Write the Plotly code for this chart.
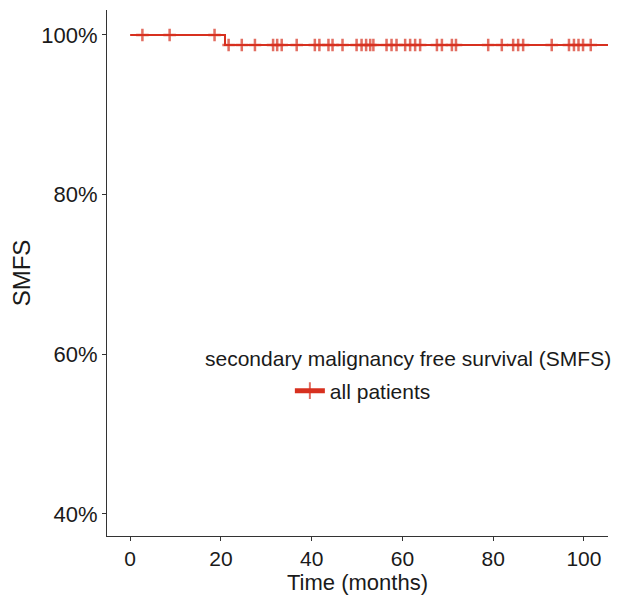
import plotly.graph_objects as go

# --- data ---
event_times = [20.9]                 # time of the single event (drop)
surv_after_event = [0.9875]          # survival after that event
censor_times = [2.7, 8.7, 18.6,
                21.7, 24.6, 27.5, 31.5, 32.4, 33.4, 36.7, 40.7, 41.7, 43.7, 44.6,
                46.8, 49.9, 51.0, 52.0, 52.9, 53.6, 56.5, 57.6, 58.7,
                60.6, 61.7, 62.8, 63.9, 67.6, 68.7, 70.9, 71.8,
                78.9, 81.9, 84.4, 85.5, 86.6, 92.9, 96.7, 97.8, 98.8, 99.8, 101.5]
end_time = 105.3
x_ticks = [0, 20, 40, 60, 80, 100]
y_ticks = [0.4, 0.6, 0.8, 1.0]
y_tick_labels = ["40%", "60%", "80%", "100%"]
legend_title = "secondary malignancy free survival (SMFS)"
series_name = "all patients"

RED = "#D7301F"


def surv_at(t):
    s = 1.0
    for et, sv in zip(event_times, surv_after_event):
        if t >= et:
            s = sv
    return s


pts = sorted([(0.0, 0)] + [(t, 0) for t in event_times] + [(t, 1) for t in censor_times] + [(end_time, 0)])
xs = [p[0] for p in pts]
ys = [surv_at(p[0]) for p in pts]
sizes = [9 if p[1] else 0 for p in pts]

fig = go.Figure()
fig.add_trace(go.Scatter(
    x=xs, y=ys, mode="lines+markers", line_shape="hv",
    line=dict(color=RED, width=2),
    marker=dict(symbol="cross-thin", size=sizes, color=RED,
                line=dict(color=RED, width=2.5)),
    name=series_name, showlegend=True, cliponaxis=True,
))

font_family = "Arial, Liberation Sans, sans-serif"
fig.update_layout(
    width=613, height=588,
    margin=dict(l=99, r=13, t=2, b=60),
    paper_bgcolor="white", plot_bgcolor="white",
    font=dict(family=font_family, color="black"),
    legend=dict(
        font=dict(size=21, color="#1a1a1a"),
        x=0.365, y=0.2757, xanchor="left", yanchor="middle",
        bgcolor="rgba(0,0,0,0)", itemsizing="constant",
    ),
    annotations=[dict(
        text=legend_title, xref="paper", yref="paper", x=0.601, y=0.338,
        xanchor="center", yanchor="middle", showarrow=False,
        font=dict(size=21, color="#1a1a1a"),
    )],
    xaxis=dict(
        range=[-5.1, end_time], tickvals=x_ticks,
        showline=True, linecolor="#333333", linewidth=1.2,
        ticks="outside", ticklen=4, tickcolor="#333333",
        showgrid=False, zeroline=False,
        tickfont=dict(size=21, color="#1a1a1a"),
        title=dict(text="Time (months)", font=dict(size=22, color="#1a1a1a"), standoff=4),
    ),
    yaxis=dict(
        range=[0.3724, 1.0313], tickvals=y_ticks, ticktext=y_tick_labels,
        showline=True, linecolor="#333333", linewidth=1.2,
        ticks="outside", ticklen=4, tickcolor="#333333",
        showgrid=False, zeroline=False,
        tickfont=dict(size=22, color="#1a1a1a"),
        title=dict(text="SMFS", font=dict(size=24, color="#1a1a1a"), standoff=8),
    ),
)

fig.write_html("out.html")
